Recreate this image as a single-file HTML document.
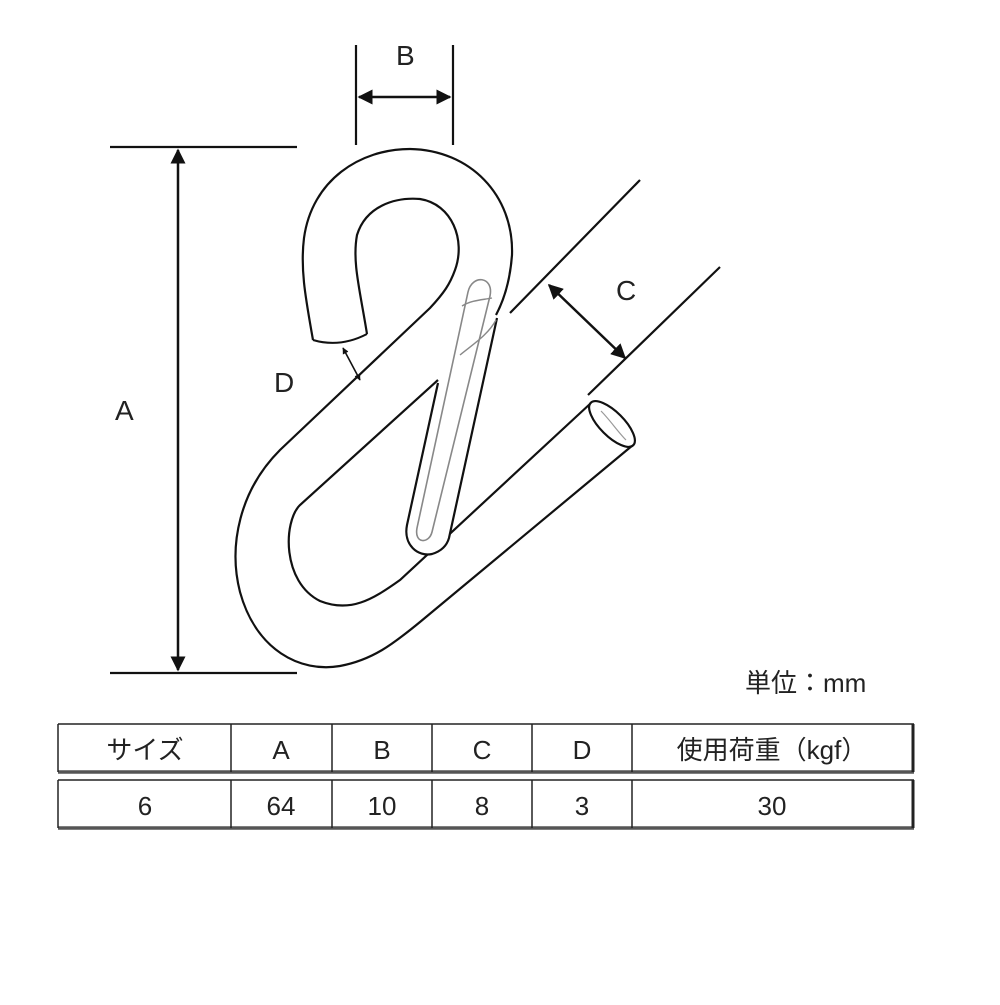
<!DOCTYPE html>
<html><head><meta charset="utf-8"><style>
html,body{margin:0;padding:0;background:#fff;}
body{width:1000px;height:1000px;overflow:hidden;}
svg text{font-family:"Liberation Sans","Noto Sans CJK JP",sans-serif;fill:#222;}
</style></head><body>
<svg width="1000" height="1000" viewBox="0 0 1000 1000" xmlns="http://www.w3.org/2000/svg">
<defs>
<marker id="ah" viewBox="0 0 10 10" refX="9" refY="5" markerWidth="6" markerHeight="6" orient="auto-start-reverse"><path d="M0,0 L10,5 L0,10 z" fill="#111"/></marker>
<marker id="ahs" viewBox="0 0 10 10" refX="9" refY="5" markerWidth="4" markerHeight="4" orient="auto-start-reverse"><path d="M0,0 L10,5 L0,10 z" fill="#111"/></marker>
</defs>
<g fill="none" stroke="#111" stroke-width="2.2">
<line x1="110" y1="147" x2="297" y2="147"/>
<line x1="110" y1="673" x2="297" y2="673"/>
<line x1="178" y1="150" x2="178" y2="670" marker-start="url(#ah)" marker-end="url(#ah)" stroke-width="2.5"/>
<line x1="356" y1="45" x2="356" y2="145"/>
<line x1="453" y1="45" x2="453" y2="145"/>
<line x1="359" y1="97" x2="450" y2="97" marker-start="url(#ah)" marker-end="url(#ah)" stroke-width="2.5"/>
<line x1="510" y1="313" x2="640" y2="180"/>
<line x1="588" y1="395" x2="720" y2="267"/>
<line x1="549" y1="285" x2="625" y2="358" marker-start="url(#ah)" marker-end="url(#ah)" stroke-width="2.5"/>
<line x1="343" y1="348" x2="360" y2="380" stroke-width="1.6" marker-start="url(#ahs)" marker-end="url(#ahs)"/>

<path d="M313,340 C306,300 300,270 304,238 C312,180 360,149 410,149 C470,150 514,195 512,255 C510,282 504,300 496,315"/>
<path d="M367,334 C360,290 352,262 357,235 C366,206 395,197 420,199 C452,204 466,240 455,270 C450,284 444,293 430,308 L280,450 C240,490 228,545 240,592 C256,650 300,673 340,666 C372,660 392,645 420,622 L633,445"/>
<path d="M313,340 Q340,348 367,334" stroke-width="2"/>
<path d="M438,380 L300,505 C283,522 282,582 320,601 C350,613 372,600 400,580 L591,403"/>
<path d="M438,383 L407,525 C403,545 418,557 432,554 C442,551 447,545 449,538 L497,318" fill="#fff"/>
<path d="M468,292 C472,274 494,276 490,296 L432,532 C429,544 414,544 417,528 Z" stroke="#888" stroke-width="1.6" fill="#fff"/>
<path d="M462,306 C472,300 482,300 492,298" stroke="#888" stroke-width="1.4"/>
<path d="M460,355 C472,345 488,335 496,320" stroke="#888" stroke-width="1.4"/>
<ellipse cx="612" cy="424" rx="30" ry="12" transform="rotate(45 612 424)" fill="#fff"/>
<path d="M601,411 C610,420 618,432 626,440" stroke="#999" stroke-width="1.2"/>
</g>
<text x="115" y="420" font-size="28">A</text>
<text x="396" y="65" font-size="28">B</text>
<text x="616" y="300" font-size="28">C</text>
<text x="274" y="392" font-size="28">D</text>
<text x="745" y="692" font-size="26">単位：mm</text>

<g stroke="#222" fill="none">
<line x1="58" y1="724" x2="914" y2="724" stroke-width="1.5"/>
<line x1="58" y1="772" x2="914" y2="772" stroke="#555" stroke-width="3.5"/>
<line x1="58" y1="780" x2="914" y2="780" stroke-width="1.5"/>
<line x1="58" y1="828" x2="914" y2="828" stroke="#555" stroke-width="3.5"/>
<g stroke-width="1.5">
<line x1="58" y1="724" x2="58" y2="772"/><line x1="58" y1="780" x2="58" y2="828"/>
<line x1="231" y1="724" x2="231" y2="772"/><line x1="231" y1="780" x2="231" y2="828"/>
<line x1="332" y1="724" x2="332" y2="772"/><line x1="332" y1="780" x2="332" y2="828"/>
<line x1="432" y1="724" x2="432" y2="772"/><line x1="432" y1="780" x2="432" y2="828"/>
<line x1="532" y1="724" x2="532" y2="772"/><line x1="532" y1="780" x2="532" y2="828"/>
<line x1="632" y1="724" x2="632" y2="772"/><line x1="632" y1="780" x2="632" y2="828"/>
</g>
<line x1="913" y1="724" x2="913" y2="772" stroke-width="3"/><line x1="913" y1="780" x2="913" y2="828" stroke-width="3"/>
</g>
<g font-size="26" text-anchor="middle">
<text x="145" y="759">サイズ</text>
<text x="281" y="759">A</text>
<text x="382" y="759">B</text>
<text x="482" y="759">C</text>
<text x="582" y="759">D</text>
<text x="772" y="759">使用荷重（kgf）</text>
<text x="145" y="815">6</text>
<text x="281" y="815">64</text>
<text x="382" y="815">10</text>
<text x="482" y="815">8</text>
<text x="582" y="815">3</text>
<text x="772" y="815">30</text>
</g>
</svg>
</body></html>
